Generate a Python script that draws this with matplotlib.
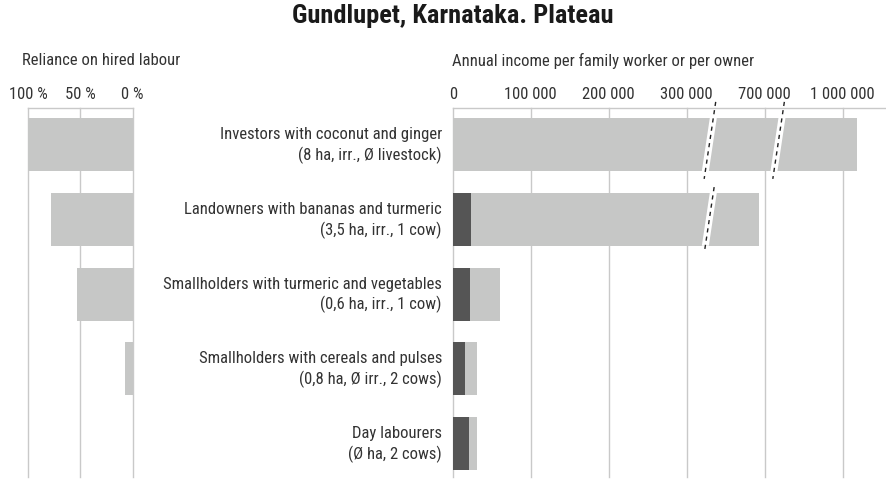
import numpy as np
import matplotlib
matplotlib.use("Agg")
import matplotlib.pyplot as plt
from matplotlib.patches import Polygon

plt.rcParams["font.family"] = ["Roboto Condensed", "DejaVu Sans"]

# ---- data -------------------------------------------------------------
groups = [
    "Investors with coconut and ginger\n(8 ha, irr., Ø livestock)",
    "Landowners with bananas and turmeric\n(3,5 ha, irr., 1 cow)",
    "Smallholders with turmeric and vegetables\n(0,6 ha, irr., 1 cow)",
    "Smallholders with cereals and pulses\n(0,8 ha, Ø irr., 2 cows)",
    "Day labourers\n(Ø ha, 2 cows)",
]
hired_labour_pct = [100, 78, 53, 7, 0]
income_family_worker = [1000, 23500, 22000, 16000, 21000]
income_total = [1055000, 670000, 60500, 31000, 31000]

pct_ticks = [100, 50, 0]
pct_labels = ["100 %", "50 %", "0 %"]
income_ticks = [0, 100000, 200000, 300000, 700000, 1000000]
income_labels = ["0", "100 000", "200 000", "300 000", "700 000", "1 000 000"]

# axis breaks: (row index, break value)
axis_breaks = [(0, 416000), (0, 751000), (1, 416000)]

# ---- styling ----------------------------------------------------------
DARK = "#555555"
LIGHT = "#c6c7c6"
GRID = "#c9c9c9"
TEXT = "#333333"
FS = 12

W, H = 887, 481
fig = plt.figure(figsize=(W / 100, H / 100), dpi=100)


def px_box(x0, x1, ytop, ybot):
    return [x0 / W, 1 - ybot / H, (x1 - x0) / W, (ybot - ytop) / H]


AX_TOP, AX_BOT = 109, 478
ROW_PX = 74.75
ylim = (4 + (AX_BOT - 444.5) / ROW_PX, -(145.5 - AX_TOP) / ROW_PX)
BAR_H = 53 / ROW_PX
rows = np.arange(len(groups))

# ---- left panel: reliance on hired labour -----------------------------
axl = fig.add_axes(px_box(28, 132.7, AX_TOP, AX_BOT))
axl.barh(rows, hired_labour_pct, height=BAR_H, color=LIGHT, zorder=2)
axl.set_xlim(100, 0)
axl.set_ylim(*ylim)
axl.set_xticks(pct_ticks, pct_labels)
axl.set_yticks([])

# ---- right panel: annual income with broken scale ---------------------
seg_val = [-1e6, 0, 300000, 700000, 1000000, 3000000]
seg_pos = [-10, 0, 3, 4, 5, 5 + 2000000 / 300000]


def fwd(v):
    return np.interp(v, seg_val, seg_pos)


def inv(p):
    return np.interp(p, seg_pos, seg_val)


axr = fig.add_axes(px_box(452.7, 887, AX_TOP, AX_BOT))
axr.set_xscale("function", functions=(fwd, inv))
x_right = inv((887 - 452.7) / 78.0)
axr.set_xlim(0, x_right)
axr.set_ylim(*ylim)
hired = np.array(income_total) - np.array(income_family_worker)
axr.barh(rows, income_family_worker, height=BAR_H, color=DARK, zorder=2)
axr.barh(rows, hired, left=income_family_worker, height=BAR_H, color=LIGHT, zorder=2)
axr.set_xticks(income_ticks, income_labels)
axr.set_yticks([])

for ax in (axl, axr):
    ax.xaxis.tick_top()
    ax.tick_params(axis="x", length=0, pad=5, labelsize=FS, labelcolor=TEXT)
    ax.grid(axis="x", color=GRID, linewidth=1.0, zorder=0)
    ax.set_axisbelow(True)
    for gl in ax.get_xgridlines():
        gl.set_clip_on(False)
    for side in ("left", "right", "bottom"):
        ax.spines[side].set_visible(False)
    ax.spines["top"].set_color(GRID)
    ax.spines["top"].set_linewidth(1.0)

# break marks: white slanted gap with a dashed line through it
slope = -12 / 80 * ROW_PX / 78.0   # x units per y unit
gap = 7 / 78.0
for row, val in axis_breaks:
    c = fwd(val)
    y0, y1 = (row - 0.57, row + 0.46) if row == 0 else (row - 0.43, row + 0.45)
    yb0, yb1 = row - BAR_H / 2, row + BAR_H / 2
    xs = [c + slope * (yb0 - row) - gap / 2, c + slope * (yb0 - row) + gap / 2,
          c + slope * (yb1 - row) + gap / 2, c + slope * (yb1 - row) - gap / 2]
    poly = Polygon(list(zip(inv(np.array(xs)), [yb0, yb0, yb1, yb1])),
                   closed=True, facecolor="white", edgecolor="none", zorder=3)
    axr.add_patch(poly)
    lx = inv(np.array([c + slope * (y0 - row), c + slope * (y1 - row)]))
    axr.plot(lx, [y0, y1], color="#222222", linewidth=1.0, dashes=(3, 3),
             zorder=4, clip_on=False, solid_capstyle="butt", dash_capstyle="butt")

# category labels
for i, g in enumerate(groups):
    y_disp = axr.transData.transform((0, i))[1]
    fig.text(442 / W, y_disp / H, g, ha="right", va="center",
             fontsize=FS, color=TEXT, linespacing=1.35)

# headers and title
fig.text(22 / W, 1 - 61 / H, "Reliance on hired labour", ha="left", va="center",
         fontsize=FS, color=TEXT)
fig.text(452 / W, 1 - 61 / H, "Annual income per family worker or per owner",
         ha="left", va="center", fontsize=FS, color=TEXT)
fig.text(453 / W, 1 - 16 / H, "Gundlupet, Karnataka. Plateau", ha="center",
         va="center", fontsize=19, fontweight="bold", color="#1a1a1a")

fig.savefig("out.png", dpi=100)
